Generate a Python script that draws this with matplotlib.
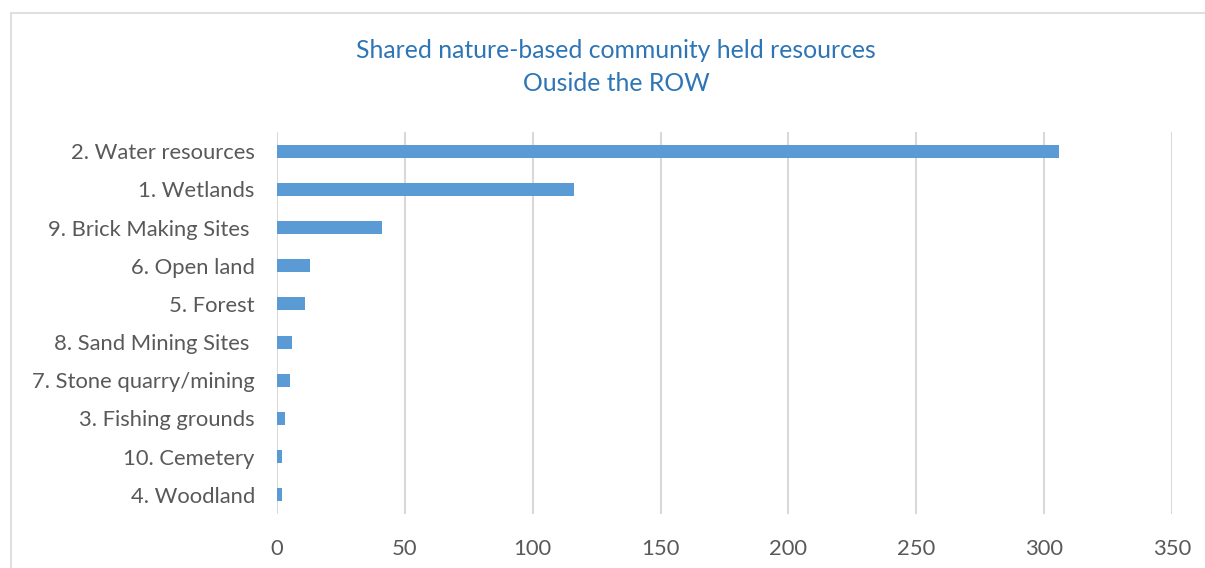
import matplotlib.pyplot as plt
from matplotlib.patches import Rectangle

# Resource categories, listed top to bottom
categories = [
    "2. Water resources",
    "1. Wetlands",
    "9. Brick Making Sites ",
    "6. Open land",
    "5. Forest",
    "8. Sand Mining Sites ",
    "7. Stone quarry/mining",
    "3. Fishing grounds",
    "10. Cemetery",
    "4. Woodland",
]
counts = [306, 116, 41, 13, 11, 6, 5, 3, 2, 2]
x_ticks = [0, 50, 100, 150, 200, 250, 300, 350]

plt.rcParams["font.family"] = ["Lato", "DejaVu Sans"]

fig = plt.figure(figsize=(12.05, 5.68), dpi=100)

# chart frame
fig.patches.append(Rectangle((11 / 1205, -0.1), 1.2, 1 - 13 / 568 + 0.1,
                             transform=fig.transFigure, fill=False,
                             edgecolor="#D9D9D9", linewidth=1.2))

ax = fig.add_axes([277 / 1205, 1 - 514 / 568, (1172 - 277) / 1205, (514 - 132) / 568])

ypos = range(len(categories))
ax.barh(ypos, counts, height=0.34, color="#5B9BD5", zorder=3)
ax.set_ylim(len(categories) - 0.5, -0.5)
ax.set_xlim(0, 350)
ax.set_xticks(x_ticks)
ax.set_yticks(list(ypos))
ax.set_yticklabels(categories)

ax.grid(axis="x", color="#D9D9D9", linewidth=1.5, zorder=0)
for s in ax.spines.values():
    s.set_visible(False)
ax.tick_params(length=0, labelsize=15.8, colors="#595959")
ax.tick_params(axis="y", pad=16)
ax.tick_params(axis="x", pad=18)

fig.text(616 / 1205, 1 - 67 / 568,
         "Shared nature-based community held resources\nOuside the ROW",
         ha="center", va="center", fontsize=17.8, color="#2E75B6",
         linespacing=1.55)

fig.savefig("out.png", dpi=100)
